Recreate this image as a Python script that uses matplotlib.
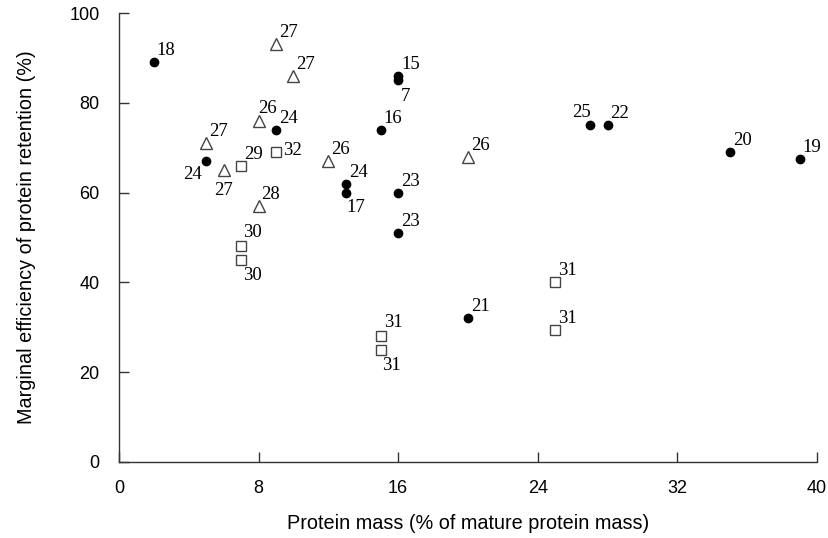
import numpy as np
import matplotlib
matplotlib.use('Agg')
import matplotlib.pyplot as plt

# filled circles
circ_x = [2, 16, 16, 15, 9, 5, 13, 13, 16, 16, 27, 28, 35, 39, 20]
circ_y = [89, 86, 85, 74, 74, 67, 62, 60, 60, 51, 75, 75, 69, 67.5, 32]
circ_lab = ['18', '15', '7', '16', '24', '24', '24', '17', '23', '23', '25', '22', '20', '19', '21']

# open triangles
tri_x = [9, 10, 8, 5, 6, 12, 8, 20]
tri_y = [93, 86, 76, 71, 65, 67, 57, 68]
tri_lab = ['27', '27', '26', '27', '27', '26', '28', '26']

# open squares
sq_x = [7, 9, 7, 7, 15, 15, 25, 25]
sq_y = [66, 69, 48, 45, 28, 25, 40, 29.5]
sq_lab = ['29', '32', '30', '30', '31', '31', '31', '31']

x_ticks = [0, 8, 16, 24, 32, 40]
y_ticks = [0, 20, 40, 60, 80, 100]

# label placement: (dx px, dy px, ha, va)
UR = (3, 3, 'left', 'bottom')
circ_pos = [UR, UR, (3, -8, 'left', 'top'), UR, UR, (-4, -5, 'right', 'top'), UR,
            (1, -6, 'left', 'top'), UR, UR, (1, 4, 'right', 'bottom'), UR, UR, UR, UR]
tri_pos = [UR, UR, (0, 4, 'left', 'bottom'), UR, (0, -12, 'center', 'top'), UR, UR, UR]
sq_pos = [UR, (7, 2, 'left', 'center'), (2, 5, 'left', 'bottom'), (2, -7, 'left', 'top'),
          (3, 5, 'left', 'bottom'), (1, -7, 'left', 'top'), UR, UR]

fig = plt.figure(figsize=(8.29, 5.38), dpi=100)
ax = fig.add_axes([0.1435, 0.1413, 0.842, 0.8345])

ax.plot(circ_x, circ_y, 'o', color='black', markersize=6, linestyle='none')
ax.plot(tri_x, tri_y, '^', markerfacecolor='white', markeredgecolor='#444444',
        markersize=9, markeredgewidth=1.0, linestyle='none')
ax.plot(sq_x, sq_y, 's', markerfacecolor='white', markeredgecolor='#444444',
        markersize=7, markeredgewidth=1.0, linestyle='none')

def label(xs, ys, labs, pos):
    for x, y, t, (dx, dy, ha, va) in zip(xs, ys, labs, pos):
        ax.annotate(t, (x, y), xytext=(dx, dy), textcoords='offset pixels',
                    ha=ha, va=va, fontsize=13.5, family='Liberation Serif')

label(circ_x, circ_y, circ_lab, circ_pos)
label(tri_x, tri_y, tri_lab, tri_pos)
label(sq_x, sq_y, sq_lab, sq_pos)

ax.set_xlim(0, 40)
ax.set_ylim(0, 100)
ax.set_xticks(x_ticks)
ax.set_yticks(y_ticks)
ax.spines['top'].set_visible(False)
ax.spines['right'].set_visible(False)
for s in ['left', 'bottom']:
    ax.spines[s].set_linewidth(1.0)
    ax.spines[s].set_color('#333333')
ax.tick_params(axis='both', direction='in', length=7, width=1.0, color='#333333',
               labelsize=13)
ax.tick_params(axis='x', pad=13)
ax.tick_params(axis='y', pad=14)
for t in ax.get_xticklabels() + ax.get_yticklabels():
    t.set_family('Liberation Sans')

ax.set_xlabel('Protein mass (% of mature protein mass)', fontsize=14.3,
              family='Liberation Sans', labelpad=12)
ax.set_ylabel('Marginal efficiency of protein retention (%)', fontsize=14.3,
              family='Liberation Sans', labelpad=24)

fig.savefig('out.png', dpi=100)
